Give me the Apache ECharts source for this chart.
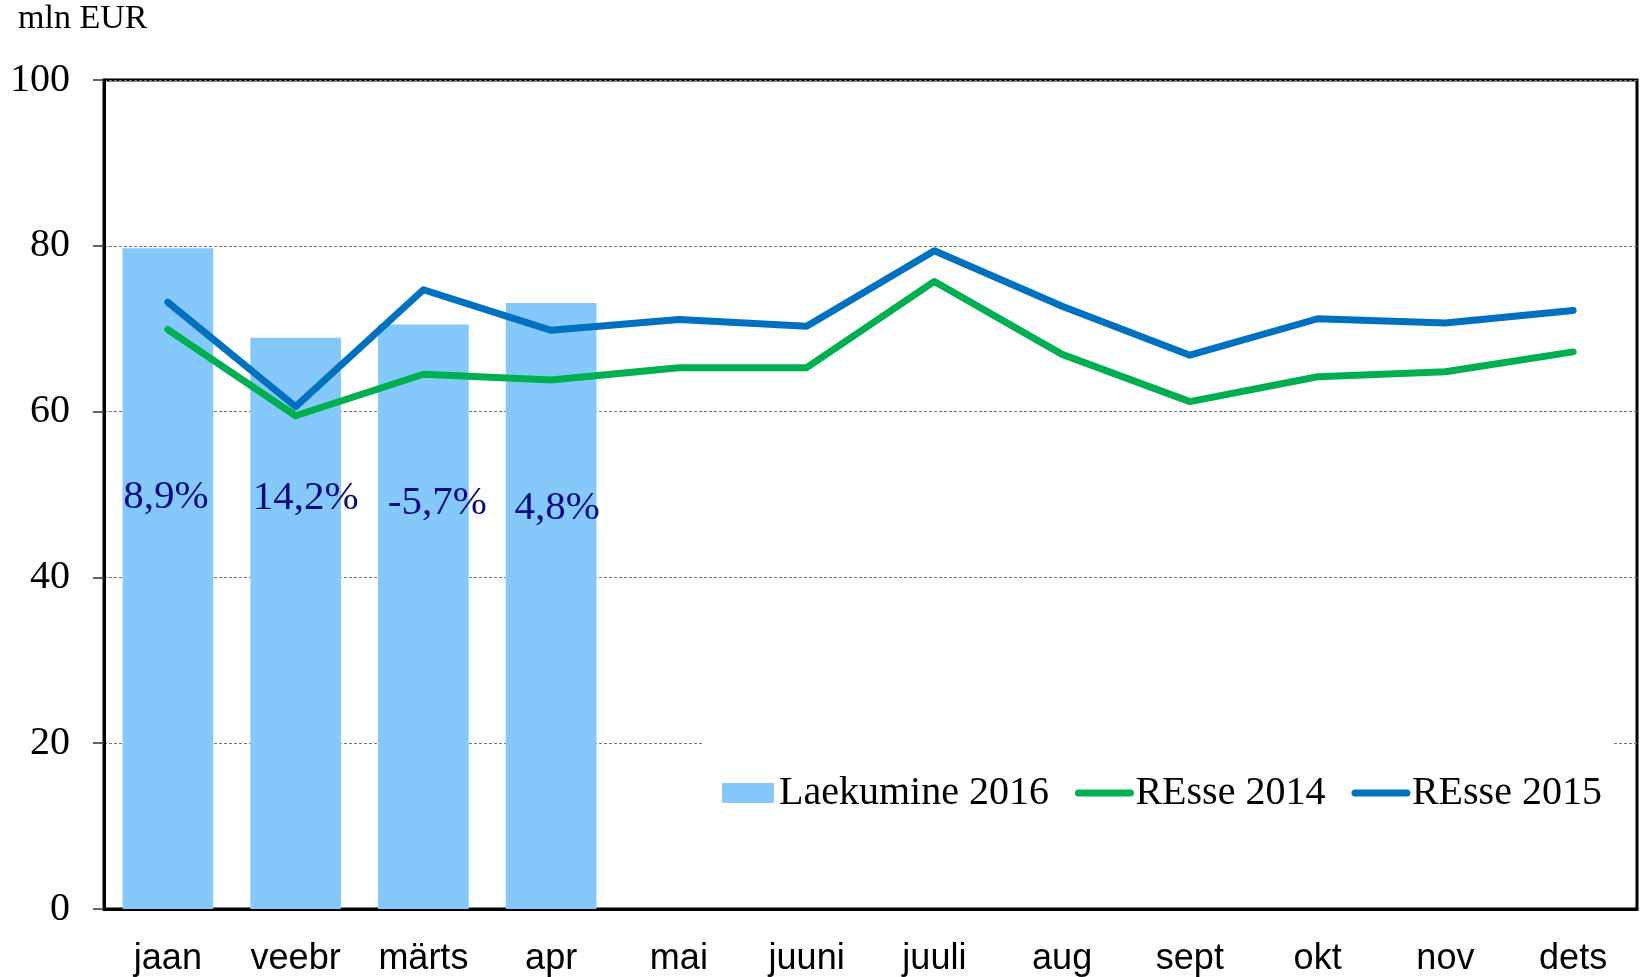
<!DOCTYPE html>
<html>
<head>
<meta charset="utf-8">
<title>Laekumine 2016</title>
<script src="https://cdn.jsdelivr.net/npm/echarts@6/dist/echarts.min.js"></script>
<style>
  html, body { margin: 0; padding: 0; background: #fff; }
  #chart { width: 1644px; height: 977px; }
</style>
</head>
<body>
<div id="chart"></div>
<script>
  // andmed (mln EUR)
  var months = ['jaan', 'veebr', 'märts', 'apr', 'mai', 'juuni', 'juuli', 'aug', 'sept', 'okt', 'nov', 'dets']
  var laekumine2016 = [79.7, 68.9, 70.5, 73.1, null, null, null, null, null, null, null, null]
  var resse2014 = [69.9, 59.5, 64.5, 63.8, 65.3, 65.3, 75.7, 66.9, 61.2, 64.2, 64.8, 67.2]
  var resse2015 = [73.2, 60.6, 74.7, 69.8, 71.1, 70.3, 79.4, 72.7, 66.8, 71.2, 70.7, 72.2]
  var growthLabels = ['8,9%', '14,2%', '-5,7%', '4,8%']
  var yMin = 0
  var yMax = 100
  var yStep = 20

  // small nudges of the % labels, as in the source
  var labelShift = [[-2, -4], [10, -3], [14, 2], [6, 7]]

  var serif = "'Liberation Serif', 'DejaVu Serif', serif"
  var sans = "'Liberation Sans', sans-serif"

  var barData = laekumine2016.map(function (v, i) {
    if (v === null) return '-'
    return {
      value: v,
      label: { offset: labelShift[i] || [0, 0] }
    }
  })

  // legend line items: thick rounded stroke, no marker
  var legendLine = { width: 7, cap: 'round' }

  var option = {
    animation: false,
    backgroundColor: '#fff',
    title: {
      text: 'mln EUR',
      left: 18,
      top: 2,
      padding: 0,
      textStyle: {
        fontFamily: serif,
        fontWeight: 'normal',
        fontSize: 34,
        color: '#000'
      }
    },
    legend: {
      left: 702,
      top: 735,
      padding: [38, 10, 20, 20],
      backgroundColor: '#fff',
      itemWidth: 52,
      itemHeight: 20,
      itemGap: 26,
      textStyle: {
        fontFamily: serif,
        fontSize: 40,
        lineHeight: 40,
        color: '#000'
      },
      data: [
        { name: 'Laekumine 2016', icon: 'rect' },
        { name: 'REsse 2014', itemStyle: { opacity: 0 }, lineStyle: legendLine },
        { name: 'REsse 2015', itemStyle: { opacity: 0 }, lineStyle: legendLine }
      ]
    },
    grid: {
      left: 104,
      right: 7,
      top: 80,
      bottom: 68,
      show: true,
      borderColor: '#000',
      borderWidth: 3
    },
    xAxis: {
      type: 'category',
      data: months,
      axisLine: { lineStyle: { color: '#000', width: 3 } },
      axisTick: { length: 12, lineStyle: { color: '#555', width: 1.5 } },
      axisLabel: {
        margin: 32,
        fontFamily: sans,
        fontSize: 36,
        color: '#000'
      }
    },
    yAxis: {
      type: 'value',
      min: yMin,
      max: yMax,
      interval: yStep,
      axisLine: { show: true, lineStyle: { color: '#000', width: 3 } },
      axisTick: { show: true, length: 11, lineStyle: { color: '#333', width: 1.5 } },
      axisLabel: {
        margin: 34,
        fontFamily: serif,
        fontSize: 40,
        color: '#000'
      },
      splitLine: { lineStyle: { color: '#777', width: 1, type: [3, 2] } }
    },
    series: [
      {
        name: 'Laekumine 2016',
        type: 'bar',
        data: barData,
        barCategoryGap: '29%',
        itemStyle: { color: '#85C9FC' },
        label: {
          show: true,
          position: 'insideBottom',
          distance: 387,
          fontFamily: serif,
          fontSize: 41,
          color: '#0A0A80',
          formatter: function (p) { return growthLabels[p.dataIndex] }
        }
      },
      {
        name: 'REsse 2014',
        type: 'line',
        data: resse2014,
        symbol: 'none',
        itemStyle: { color: '#00B050' },
        lineStyle: { color: '#00B050', width: 7, cap: 'round', join: 'round' }
      },
      {
        name: 'REsse 2015',
        type: 'line',
        data: resse2015,
        symbol: 'none',
        itemStyle: { color: '#0070C0' },
        lineStyle: { color: '#0070C0', width: 7, cap: 'round', join: 'round' }
      }
    ]
  }

  var chart = echarts.init(document.getElementById('chart'))
  chart.setOption(option)
  window.addEventListener('resize', function () {
    chart.resize()
  })
</script>
</body>
</html>
